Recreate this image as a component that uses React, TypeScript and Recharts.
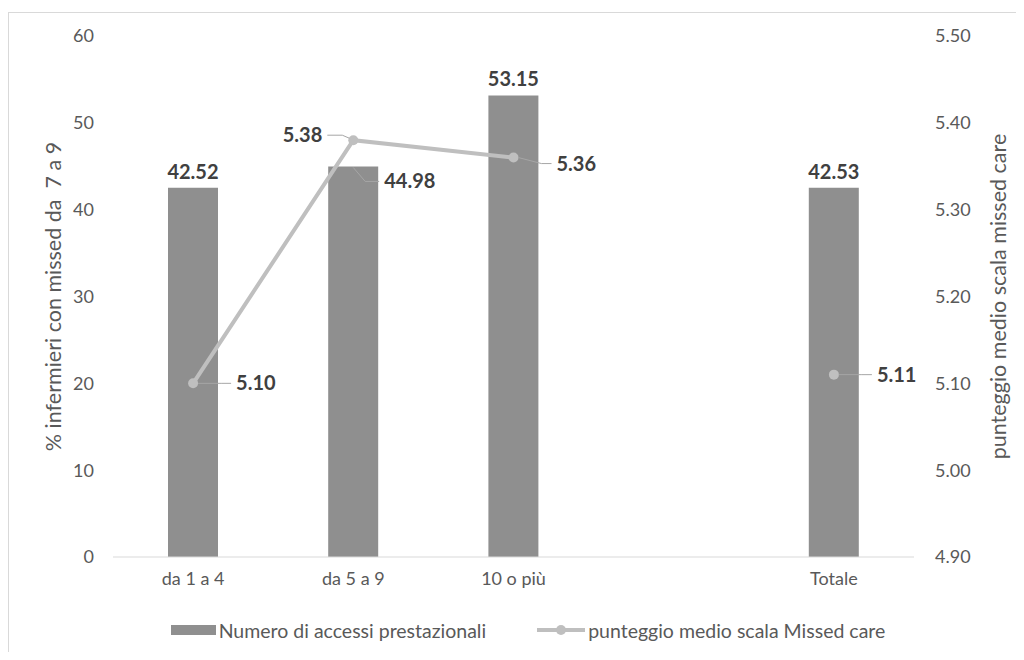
import React from 'react';
import {
  ComposedChart, Bar, Line, XAxis, YAxis, Legend, LabelList, Label
} from 'recharts';

const categories = ['da 1 a 4', 'da 5 a 9', '10 o più', '', 'Totale'];
const accessi = [42.52, 44.98, 53.15, null, 42.53];
const punteggio = [5.10, 5.38, 5.36, null, 5.11];
const leftTicks = [0, 10, 20, 30, 40, 50, 60];
const rightTicks = [4.9, 5.0, 5.1, 5.2, 5.3, 5.4, 5.5];

const data = categories.map((c, i) => ({ cat: c, accessi: accessi[i], punteggio: punteggio[i] }));

const FONT = 'Lato, "Open Sans", sans-serif';
const BAR = '#8f8f8f';
const LINE = '#bfbfbf';
const LEADER = '#a6a6a6';
const TXT = '#404040';
const TICK = '#595959';

function BarLabel(props: any) {
  const { x, y, width, value, index } = props;
  if (value == null) return null;
  const cx = x + width / 2;
  if (index === 1) {
    // etichetta spostata a destra, con linea guida
    return (
      <g>
        <polyline points={`${cx},${y + 1} ${cx + 12},${y + 15} ${cx + 26},${y + 15}`} fill="none" stroke={LEADER} strokeWidth={1} />
        <text x={cx + 31} y={y + 15} dy="0.35em" fontFamily={FONT} fontWeight={700} fontSize={20} fill={TXT}>{value.toFixed(2)}</text>
      </g>
    );
  }
  return (
    <text x={cx} y={y - 16} dy="0.35em" textAnchor="middle" fontFamily={FONT} fontWeight={700} fontSize={20} fill={TXT}>{value.toFixed(2)}</text>
  );
}

function LineLabel(props: any) {
  const { x, y, value, index } = props;
  if (value == null) return null;
  if (index === 1) {
    return (
      <g>
        <polyline points={`${x - 4},${y - 2} ${x - 11},${y - 5} ${x - 26},${y - 5}`} fill="none" stroke={LEADER} strokeWidth={1} />
        <text x={x - 31} y={y - 5} dy="0.35em" textAnchor="end" fontFamily={FONT} fontWeight={700} fontSize={20} fill={TXT}>{value.toFixed(2)}</text>
      </g>
    );
  }
  const dy = index === 2 ? 6 : 0;
  return (
    <g>
      <polyline points={`${x + 5},${y} ${x + 28},${y + dy} ${x + 38},${y + dy}`} fill="none" stroke={LEADER} strokeWidth={1} />
      <text x={x + 43} y={y + dy} dy="0.35em" fontFamily={FONT} fontWeight={700} fontSize={20} fill={TXT}>{value.toFixed(2)}</text>
    </g>
  );
}

function LegendContent() {
  return (
    <div style={{ display: 'flex', justifyContent: 'center', alignItems: 'center', fontFamily: FONT, fontSize: 19.5, color: TICK, height: 24, whiteSpace: 'nowrap' }}>
      <svg width={48} height={12} style={{ marginRight: 2 }}>
        <rect x={2} y={1} width={45} height={10} fill={BAR} />
      </svg>
      <span style={{ marginRight: 50 }}>Numero di accessi prestazionali</span>
      <svg width={50} height={12} style={{ marginRight: 2 }}>
        <line x1={1} y1={6} x2={49} y2={6} stroke={LINE} strokeWidth={4} />
        <circle cx={25} cy={6} r={5} fill={LINE} />
      </svg>
      <span>punteggio medio scala Missed care</span>
    </div>
  );
}

export default function App() {
  return (
    <div style={{ width: 1008, height: 640, marginTop: 4, position: 'relative', overflow: 'hidden', background: '#fff' }}>
      <div style={{ position: 'absolute', left: 0, top: 0, width: 1040, height: 700, border: '1px solid #d9d9d9', boxSizing: 'border-box' }} />
      <ComposedChart
        width={1008}
        height={640}
        data={data}
        margin={{ top: 24, right: 0, left: 0, bottom: 65 }}
        barCategoryGap={0}
        style={{ position: 'absolute', left: 0, top: 0 }}
      >
        <XAxis
          dataKey="cat"
          xAxisId="x"
          height={30}
          tickLine={false}
          tickSize={0}
          tickMargin={15}
          axisLine={{ stroke: '#d9d9d9', strokeWidth: 1 }}
          tick={{ fill: TICK, fontSize: 18, fontFamily: FONT }}
          interval={0}
        />
        <YAxis
          yAxisId="left"
          orientation="left"
          width={105}
          domain={[0, 60]}
          ticks={leftTicks}
          tickLine={false}
          tickSize={0}
          tickMargin={19}
          axisLine={false}
          tick={{ fill: TICK, fontSize: 18, fontFamily: FONT }}
        >
          <Label
            content={(p: any) => {
              const vb = p.viewBox;
              const cx = 45;
              const cy = vb.y + vb.height / 2;
              return (
                <text x={cx} y={cy} dy="0.35em" textAnchor="middle" transform={`rotate(-90 ${cx} ${cy})`} fontFamily={FONT} fontSize={21.5} fill={TICK} style={{ whiteSpace: 'pre' }}>
                  % infermieri con missed da  7 a 9
                </text>
              );
            }}
          />
        </YAxis>
        <YAxis
          yAxisId="right"
          orientation="right"
          width={102}
          domain={[4.9, 5.5]}
          ticks={rightTicks}
          tickFormatter={(v: number) => v.toFixed(2)}
          tickLine={false}
          tickSize={0}
          tickMargin={21}
          axisLine={false}
          tick={{ fill: TICK, fontSize: 18, fontFamily: FONT }}
        >
          <Label
            content={(p: any) => {
              const vb = p.viewBox;
              const cx = 990;
              const cy = vb.y + vb.height / 2;
              return (
                <text x={cx} y={cy} dy="0.35em" textAnchor="middle" transform={`rotate(-90 ${cx} ${cy})`} fontFamily={FONT} fontSize={21.5} fill={TICK}>
                  punteggio medio scala missed care
                </text>
              );
            }}
          />
        </YAxis>
        <Bar dataKey="accessi" xAxisId="x" yAxisId="left" fill={BAR} barSize={50} isAnimationActive={false}>
          <LabelList dataKey="accessi" content={BarLabel} />
        </Bar>
        <Line
          dataKey="punteggio"
          xAxisId="x"
          yAxisId="right"
          stroke={LINE}
          strokeWidth={4}
          dot={{ r: 5, fill: LINE, stroke: LINE, strokeWidth: 0 }}
          activeDot={false}
          connectNulls={false}
          isAnimationActive={false}
        >
          <LabelList dataKey="punteggio" content={LineLabel} />
        </Line>
        <Legend
          layout="horizontal"
          verticalAlign="middle"
          align="center"
          content={LegendContent}
          wrapperStyle={{ top: 606, left: 0, width: 1038 }}
        />
      </ComposedChart>
    </div>
  );
}
